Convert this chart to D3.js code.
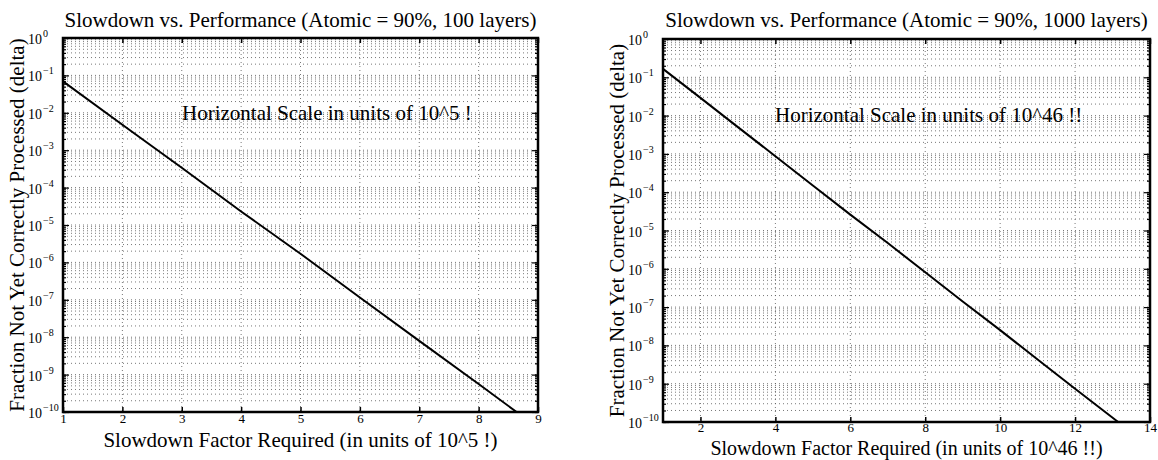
<!DOCTYPE html>
<html>
<head>
<meta charset="utf-8">
<script src="https://cdn.jsdelivr.net/npm/d3@7"></script>
<style>
  body { margin: 0; background: #fff; }
  svg { display: block; }
  text { font-family: "Liberation Serif", "Times New Roman", "DejaVu Serif", serif; }
</style>
</head>
<body>
<svg id="chart" width="1158" height="460"></svg>
<script>
// values
const leftX = [1, 2, 3, 4, 5, 6, 7, 8, 8.64];
const leftDelta = [6.9e-2, 4.8e-3, 3.4e-4, 2.3e-5, 1.7e-6, 1.15e-7, 8e-9, 5.6e-10, 1e-10];
const rightX = [1, 2, 3, 4, 5, 6, 7, 8, 9, 10, 11, 12, 13.15];
const rightDelta = [0.166, 2.9e-2, 5.0e-3, 8.7e-4, 1.5e-4, 2.6e-5, 4.7e-6, 8.1e-7, 1.4e-7, 2.5e-8, 4.3e-9, 7.4e-10, 1e-10];
const leftXTicks = [1, 2, 3, 4, 5, 6, 7, 8, 9];
const rightXTicks = [2, 4, 6, 8, 10, 12, 14];
const yExps = [0, -1, -2, -3, -4, -5, -6, -7, -8, -9, -10];

const titles = ["Slowdown vs. Performance (Atomic = 90%, 100 layers)",
                "Slowdown vs. Performance (Atomic = 90%, 1000 layers)"];
const xLabels = ["Slowdown Factor Required (in units of 10^5 !)",
                 "Slowdown Factor Required (in units of 10^46 !!)"];
const notes = ["Horizontal Scale in units of 10^5 !", "Horizontal Scale in units of 10^46 !!"];
const yLabel = "Fraction Not Yet Correctly Processed (delta)";

const svg = d3.select("#chart");
const FONT = "Liberation Serif, Times New Roman, serif";

function drawPanel(cfg) {
    const w = cfg.right - cfg.left, h = cfg.bottom - cfg.top;
    const g = svg.append("g").attr("transform", `translate(${cfg.left},${cfg.top})`);

    const x = d3.scaleLinear().domain(cfg.xDomain).range([0, w]);
    const y = d3.scaleLog().domain([1e-10, 1]).range([h, 0]);

    // minor + major y grid (dotted)
    const yMinor = [];
    yExps.forEach(e => { if (e < 0) for (let k = 1; k <= 9; k++) yMinor.push(k * Math.pow(10, e)); });
    yMinor.push(1);
    g.append("g").selectAll("line").data(yMinor).join("line")
        .attr("x1", 0).attr("x2", w)
        .attr("y1", d => y(d)).attr("y2", d => y(d))
        .attr("stroke", "#555").attr("stroke-width", 0.8)
        .attr("stroke-dasharray", "1,3");
    // x grid
    g.append("g").selectAll("line").data(cfg.xTicks).join("line")
        .attr("x1", d => x(d)).attr("x2", d => x(d))
        .attr("y1", 0).attr("y2", h)
        .attr("stroke", "#555").attr("stroke-width", 0.8)
        .attr("stroke-dasharray", "1,3");

    // note text
    g.append("text")
        .attr("x", cfg.noteX).attr("y", cfg.noteY)
        .attr("font-family", FONT).attr("font-size", 21).attr("fill", "#000")
        .text(cfg.note);

    // curve
    const line = d3.line().x(d => x(d[0])).y(d => y(d[1]));
    g.append("path")
        .datum(cfg.xs.map((v, i) => [v, cfg.ys[i]]))
        .attr("d", line)
        .attr("fill", "none").attr("stroke", "#000").attr("stroke-width", 2);

    // axes with inward ticks
    const axB = g.append("g").attr("transform", `translate(0,${h})`)
        .call(d3.axisBottom(x).tickValues(cfg.xTicks).tickSizeInner(-5).tickSizeOuter(0).tickPadding(cfg.xTickPad));
    const axT = g.append("g")
        .call(d3.axisTop(x).tickValues(cfg.xTicks).tickSizeInner(-5).tickSizeOuter(0).tickFormat(""));
    [axB, axT].forEach(a => { a.select(".domain").remove(); a.selectAll("line").attr("stroke", "#000").attr("stroke-width", 1.5); });
    axB.selectAll("text").attr("font-size", 13).attr("font-family", FONT).attr("fill", "#000");

    const axL = g.append("g")
        .call(d3.axisLeft(y).tickValues(yExps.map(e => Math.pow(10, e))).tickSizeInner(-6).tickSizeOuter(0).tickFormat(""));
    const axR = g.append("g").attr("transform", `translate(${w},0)`)
        .call(d3.axisRight(y).tickValues(yExps.map(e => Math.pow(10, e))).tickSizeInner(-6).tickSizeOuter(0).tickFormat(""));
    const mL = g.append("g")
        .call(d3.axisLeft(y).tickValues(yMinor).tickSizeInner(-3).tickSizeOuter(0).tickFormat(""));
    const mR = g.append("g").attr("transform", `translate(${w},0)`)
        .call(d3.axisRight(y).tickValues(yMinor).tickSizeInner(-3).tickSizeOuter(0).tickFormat(""));
    [axL, axR, mL, mR].forEach(a => { a.select(".domain").remove(); a.selectAll("line").attr("stroke", "#000").attr("stroke-width", 1.2); });

    // y tick labels as 10^e
    const yl = g.append("g").selectAll("text").data(yExps).join("text")
        .attr("x", -35).attr("y", d => y(Math.pow(10, d)) + 6)
        .attr("font-family", FONT).attr("font-size", 14).attr("fill", "#000");
    yl.append("tspan").text("10");
    yl.append("tspan").attr("dy", -7).attr("dx", 1).attr("font-size", 10)
        .text(d => d === 0 ? "0" : "\u2212" + Math.abs(d));

    // box
    g.append("rect").attr("width", w).attr("height", h)
        .attr("fill", "none").attr("stroke", "#000").attr("stroke-width", 2.5);

    // title
    svg.append("text")
        .attr("x", (cfg.left + cfg.right) / 2).attr("y", cfg.titleY)
        .attr("text-anchor", "middle").attr("font-family", FONT).attr("font-size", 21).attr("fill", "#000")
        .text(cfg.title);
    // x label
    svg.append("text")
        .attr("x", (cfg.left + cfg.right) / 2).attr("y", cfg.xLabelY)
        .attr("text-anchor", "middle").attr("font-family", FONT).attr("font-size", cfg.xLabelSize).attr("fill", "#000")
        .text(cfg.xLabel);
    // y label
    svg.append("text")
        .attr("transform", `translate(${cfg.yLabelX},${(cfg.top + cfg.bottom) / 2}) rotate(-90)`)
        .attr("text-anchor", "middle").attr("font-family", FONT).attr("font-size", 21).attr("fill", "#000")
        .text(yLabel);
}

drawPanel({
    left: 63, right: 538, top: 38, bottom: 412,
    xDomain: [1, 9], xTicks: leftXTicks, xs: leftX, ys: leftDelta, xTickPad: 2,
    title: titles[0], titleY: 27, xLabel: xLabels[0], xLabelY: 447, xLabelSize: 21,
    yLabelX: 24, note: notes[0], noteX: 119, noteY: 82
});
drawPanel({
    left: 663, right: 1150, top: 39, bottom: 422,
    xDomain: [1, 14], xTicks: rightXTicks, xs: rightX, ys: rightDelta, xTickPad: 1,
    title: titles[1], titleY: 27, xLabel: xLabels[1], xLabelY: 455, xLabelSize: 20,
    yLabelX: 624, note: notes[1], noteX: 112, noteY: 83
});
</script>
</body>
</html>
